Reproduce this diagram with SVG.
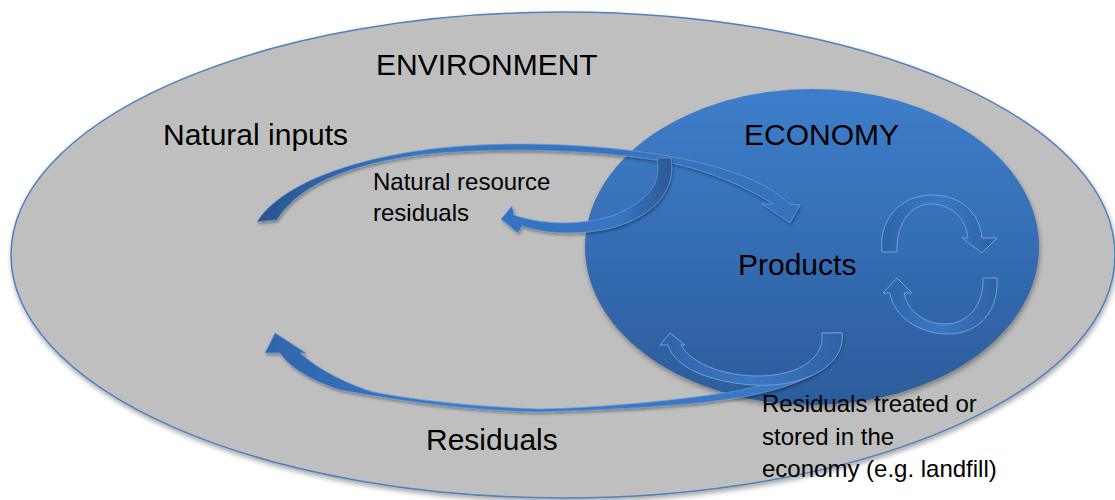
<svg xmlns="http://www.w3.org/2000/svg" width="1115" height="500" viewBox="0 0 1115 500">
<defs>
  <linearGradient id="ecoGrad" x1="0" y1="0" x2="0" y2="1">
    <stop offset="0" stop-color="#3e7ecb"/>
    <stop offset="1" stop-color="#2c5c9b"/>
  </linearGradient>
  <linearGradient id="inGrad" gradientUnits="userSpaceOnUse" x1="257" y1="0" x2="800" y2="0">
    <stop offset="0" stop-color="#29568e"/>
    <stop offset="0.3" stop-color="#3a75be"/>
    <stop offset="1" stop-color="#3572bb"/>
  </linearGradient>
  <linearGradient id="resGrad" gradientUnits="userSpaceOnUse" x1="265" y1="0" x2="845" y2="0">
    <stop offset="0" stop-color="#2f65aa"/>
    <stop offset="0.3" stop-color="#3a7ac6"/>
    <stop offset="1" stop-color="#3a77c1"/>
  </linearGradient>
  <linearGradient id="nrGrad" gradientUnits="userSpaceOnUse" x1="500" y1="0" x2="672" y2="0">
    <stop offset="0" stop-color="#3573bf"/>
    <stop offset="0.7" stop-color="#3875c0"/>
    <stop offset="1" stop-color="#2b5892"/>
  </linearGradient>
  <linearGradient id="cycGrad" x1="0" y1="0" x2="1" y2="0">
    <stop offset="0" stop-color="#2f64a6"/>
    <stop offset="0.5" stop-color="#3a78c3"/>
    <stop offset="1" stop-color="#2f62a3"/>
  </linearGradient>
  <filter id="shadow" x="-5%" y="-5%" width="110%" height="115%">
    <feDropShadow dx="1" dy="3" stdDeviation="2.5" flood-color="#000" flood-opacity="0.35"/>
  </filter>
  <filter id="ashadow" x="-10%" y="-20%" width="120%" height="140%">
    <feDropShadow dx="1" dy="2" stdDeviation="1.5" flood-color="#000" flood-opacity="0.35"/>
  </filter>
</defs>
<style>
  text { font-family: "Liberation Sans", Arial, sans-serif; fill: #000; }
  .big { font-size: 30px; }
  .small { font-size: 24px; }
  .arrow { stroke: #6e9fdc; stroke-width: 0.8; stroke-opacity: 0.85; filter: url(#ashadow); }
  .cyc { fill: url(#cycGrad); stroke: #6e9fdc; stroke-width: 1; }
</style>

<g id="environment">
  <ellipse cx="563" cy="255" rx="552" ry="243" fill="#bfbfbf" stroke="#4f81bd" stroke-width="1.5" filter="url(#shadow)"/>
  <text class="big" x="376" y="75">ENVIRONMENT</text>
</g>

<g id="economy">
  <ellipse cx="812" cy="247" rx="227" ry="158" fill="url(#ecoGrad)" filter="url(#shadow)"/>
  <text class="big" x="744" y="145" font-size="29">ECONOMY</text>
</g>

<g id="connectors">
  <!-- Natural inputs arrow -->
  <path id="arrow-natural-inputs" class="arrow" fill="url(#inGrad)"
    d="M257,222 C280,185 350,158 440,148 C520,140 600,145 663,155 C720,165 765,180 790,204 L800,205 L790,223 L762,204 L773,204 C745,186 710,171 663,161 C600,151 520,147 440,153 C360,160 300,182 277,220 Z"/>
  <!-- Natural resource residuals arrow -->
  <path id="arrow-nr-residuals" class="arrow" fill="url(#nrGrad)"
    d="M657,158 L671,158 C676,190 655,215 615,227 C580,236 545,234 522,226 L518,233 L501,219 L512,206 L514,215 C545,226 585,225 615,215 C648,200 662,185 657,158 Z"/>
  <!-- Residuals arrow -->
  <path id="arrow-residuals" class="arrow" fill="url(#resGrad)"
    d="M842,333 C845,362 810,385 737,398 C680,407 600,410 540,412 C470,411 400,401 340,390 C312,381 290,368 280,353 L265,353 L275,333 L306,353 L300,353 C320,371 350,385 373,392 C420,401 480,407 540,409 C600,408 680,400 730,392 C790,382 830,360 822,333 Z"/>
  <!-- Residuals treated in economy arrow -->
  <path id="arrow-treated" class="cyc"
    d="M842,333 C846,368 800,388 753,385 C710,382 675,368 668,345 L660,345 L670,333 L685,345 L681,345 C690,362 720,375 755,376 C795,377 825,360 822,333 Z"/>
  <!-- Products cycle arrows -->
  <path id="arrow-cycle-top" class="cyc"
    d="M882,252 C878,220 900,196 930,195 C960,194 980,213 982,238 L997,238 L982,253 L962,238 L968,238 C966,218 952,205 932,204 C912,203 896,222 897,252 Z"/>
  <path id="arrow-cycle-bottom" class="cyc"
    d="M997,278 C999,312 978,334 948,334 C918,334 893,315 890,293 L883,293 L897,278 L912,293 L904,293 C908,312 925,324 945,324 C968,324 984,305 983,278 Z"/>
</g>

<g id="labels">
  <text class="big" x="163" y="145" font-size="31">Natural inputs</text>
  <text class="small" x="373" y="190">Natural resource</text>
  <text class="small" x="373" y="221">residuals</text>
  <text class="big" x="738" y="275">Products</text>
  <text class="big" x="426" y="450" font-size="29">Residuals</text>
  <text class="small" x="762" y="412">Residuals treated or</text>
  <text class="small" x="762" y="445">stored in the</text>
  <text class="small" x="762" y="477">economy (e.g. landfill)</text>
</g>
</svg>
